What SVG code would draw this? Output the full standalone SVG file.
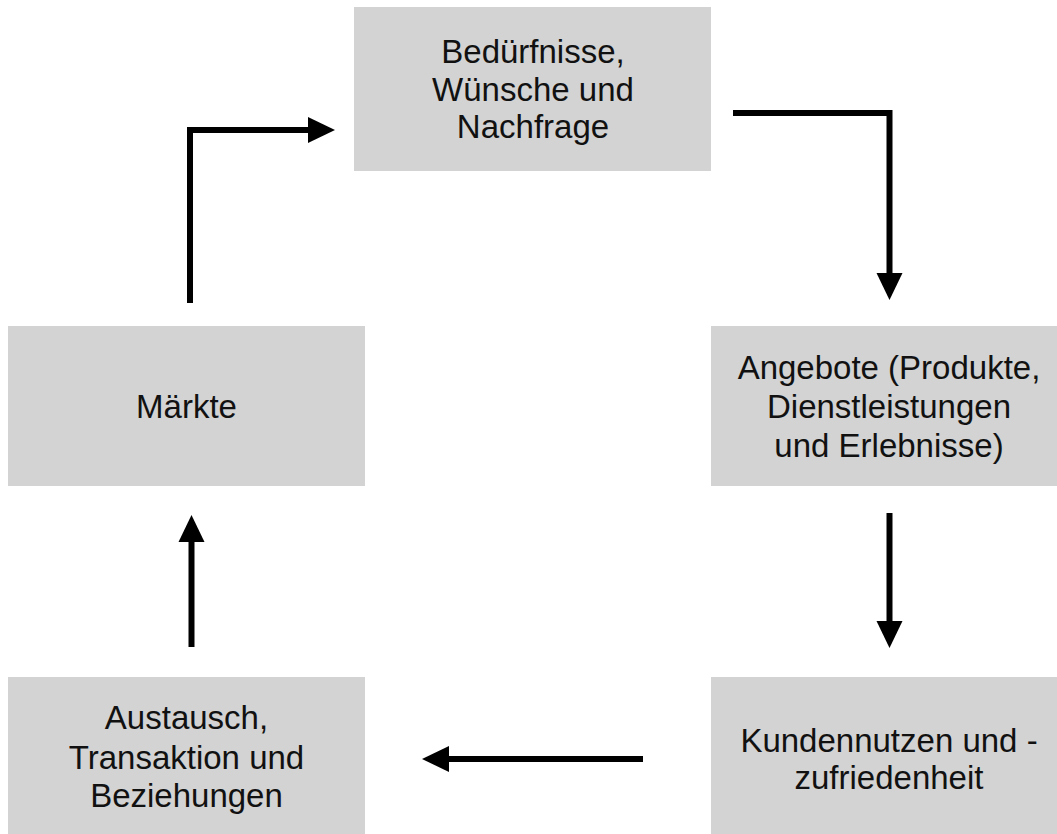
<svg xmlns="http://www.w3.org/2000/svg" width="1057" height="834" viewBox="0 0 1057 834">
<style>
.box{fill:#d3d3d3;}
.lbl{font-family:"Liberation Sans",Arial,Helvetica,sans-serif;font-size:33px;fill:#111;text-anchor:middle;}
.conn{fill:none;stroke:#000;stroke-width:6;stroke-linejoin:miter;stroke-linecap:butt;}
</style>
<defs>
<marker id="ah" markerUnits="userSpaceOnUse" markerWidth="28" markerHeight="27" refX="0" refY="13" orient="auto" viewBox="0 0 28 27" overflow="visible">
<path d="M0,0 L27,13 L0,26 Z" fill="#000"/>
</marker>
</defs>
<rect width="1057" height="834" fill="#fff"/>
<g id="n-beduerfnisse">
<rect class="box" x="354" y="7" width="357" height="164"/>
<text class="lbl" x="533" y="63">Bedürfnisse,</text>
<text class="lbl" x="533" y="101">Wünsche und</text>
<text class="lbl" x="533" y="138">Nachfrage</text>
</g>
<g id="n-maerkte">
<rect class="box" x="8" y="326" width="357" height="160"/>
<text class="lbl" x="186.5" y="418">Märkte</text>
</g>
<g id="n-angebote">
<rect class="box" x="711" y="326" width="357" height="160"/>
<text class="lbl" x="889" y="379">Angebote (Produkte,</text>
<text class="lbl" x="889" y="418">Dienstleistungen</text>
<text class="lbl" x="889" y="457">und Erlebnisse)</text>
</g>
<g id="n-austausch">
<rect class="box" x="8" y="677" width="357" height="157"/>
<text class="lbl" x="186.5" y="729">Austausch,</text>
<text class="lbl" x="186.5" y="769">Transaktion und</text>
<text class="lbl" x="186.5" y="807">Beziehungen</text>
</g>
<g id="n-kundennutzen">
<rect class="box" x="711" y="677" width="357" height="157"/>
<text class="lbl" x="889" y="752">Kundennutzen und -</text>
<text class="lbl" x="889" y="789">zufriedenheit</text>
</g>
<g id="connectors">
<path class="conn" d="M190,303 V130 H308" marker-end="url(#ah)"/>
<path class="conn" d="M733,113 H889.5 V273" marker-end="url(#ah)"/>
<path class="conn" d="M889.5,513 V621" marker-end="url(#ah)"/>
<path class="conn" d="M643,759 H449" marker-end="url(#ah)"/>
<path class="conn" d="M191.5,647 V542" marker-end="url(#ah)"/>
</g>
</svg>
